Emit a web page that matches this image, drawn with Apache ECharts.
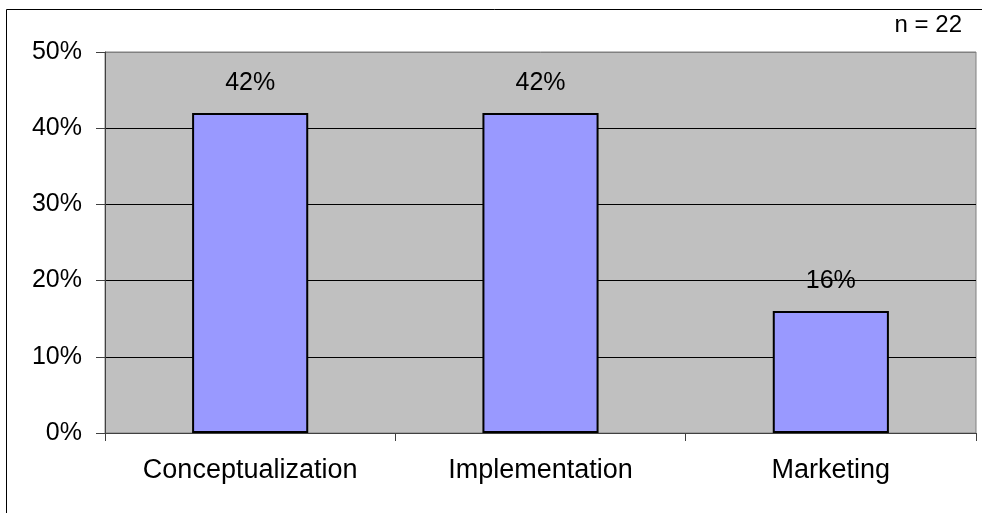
<!DOCTYPE html>
<html>
<head>
<meta charset="utf-8">
<style>
html,body{margin:0;padding:0;background:#fff;}
#chart{width:982px;height:513px;}
</style>
<script src="https://cdn.jsdelivr.net/npm/echarts@6/dist/echarts.min.js"></script>
</head>
<body>
<div id="chart"></div>
<script>
const categories = ['Conceptualization', 'Implementation', 'Marketing'];
const values = [42, 42, 16];
const yTicks = [0, 10, 20, 30, 40, 50];
const note = 'n = 22';

const FONT = "'Liberation Sans', Arial, sans-serif";
const chart = echarts.init(document.getElementById('chart'), null, {renderer: 'canvas'});
chart.setOption({
  animation: false,
  backgroundColor: '#ffffff',
  textStyle: {fontFamily: FONT},
  graphic: [
    {type: 'rect', shape: {x: 6.5, y: 9.5, width: 1000, height: 600}, style: {fill: 'none', stroke: '#000', lineWidth: 1}, z: 0},
    {type: 'text', right: 20, top: 13, style: {text: note, font: "24px 'Liberation Sans', Arial, sans-serif", fill: '#000'}}
  ],
  grid: {left: 105, top: 52, right: 6, bottom: 80, show: true, backgroundColor: '#C0C0C0', borderColor: '#808080', borderWidth: 1},
  xAxis: {
    type: 'category',
    data: categories,
    axisLine: {lineStyle: {color: '#404040', width: 1}},
    axisTick: {show: true, length: 8, inside: false, lineStyle: {color: '#404040'}},
    axisLabel: {color: '#000', fontSize: 27, fontFamily: FONT, margin: 24}
  },
  yAxis: {
    type: 'value',
    min: yTicks[0], max: yTicks[yTicks.length - 1], interval: 10,
    axisLine: {show: true, lineStyle: {color: '#404040', width: 1}},
    axisTick: {show: true, length: 9, lineStyle: {color: '#404040'}},
    splitLine: {show: true, lineStyle: {color: ['#000', '#000', '#000', '#000', '#000', '#808080'], width: 1}},
    axisLabel: {color: '#000', fontSize: 25, fontFamily: FONT, margin: 23, formatter: '{value}%'}
  },
  series: [{
    type: 'bar',
    data: values,
    barWidth: '40%',
    itemStyle: {color: '#9999FF', borderColor: '#000', borderWidth: 2},
    label: {show: true, position: 'top', distance: 17, color: '#000', fontSize: 25, fontFamily: FONT, formatter: '{c}%'}
  }]
});
</script>
</body>
</html>
